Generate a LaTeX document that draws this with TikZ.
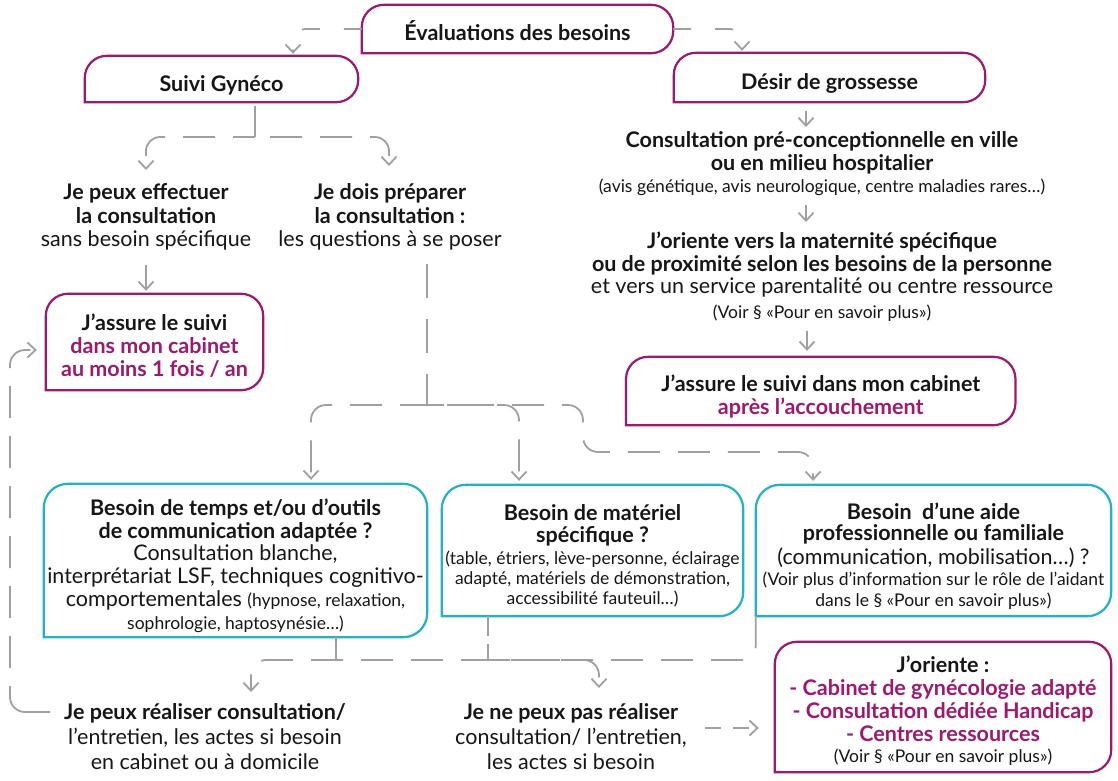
\documentclass[tikz,border=0pt]{standalone}
\usepackage{fontspec}
\setmainfont{Lato}
\usetikzlibrary{arrows.meta}
\definecolor{mag}{RGB}{160,24,110}
\definecolor{cyb}{RGB}{30,180,198}
\definecolor{gry}{RGB}{160,160,160}
\definecolor{txt}{RGB}{22,22,22}
\newcommand\fs[2]{\fontsize{#1}{#2}\selectfont}
\newcommand\sm{\fontsize{17.5}{21}\selectfont}
\newcommand\mg[1]{\textcolor{mag}{\textbf{#1}}}
\newcommand\boxline[2]{\draw[#1] (#2.south west) -- (#2.north west) -- (#2.north east) -- (#2.south east) -- (#2.south west);}
\begin{document}
\begin{tikzpicture}[x=1pt,y=-1pt,
  tx/.style={inner sep=0pt, align=center, text=txt, font=\fs{21.5}{#1}},
  tx/.default=23.5,
  bxn/.style={inner sep=0pt, minimum width=#1},
  magb/.style={draw=mag, line width=2.2pt, rounded corners=22pt, line cap=rect},
  cyab/.style={draw=cyb, line width=2.2pt, rounded corners=24pt, line cap=rect},
  gl/.style={draw=gry, line width=1.8pt},
  dl/.style={gl, dash pattern=on 32pt off 18pt},
  dls/.style={gl, dash pattern=on 18pt off 24pt},
  arr/.style={-{Straight Barb[length=8pt,width=15pt]}},
  ]
\fill[white] (0,0) rectangle (1118,780);
\useasboundingbox (0,0) rectangle (1118,780);

% ---- boxes (outlines)
\node[bxn=311pt, minimum height=48pt] (eval) at (517.5,29) {};
\node[bxn=273pt, minimum height=46pt] (suivi) at (221.5,79) {};
\node[bxn=311pt, minimum height=49pt] (desir) at (829.5,77.5) {};
\node[bxn=217pt, minimum height=96pt] (assureL) at (154.5,342) {};
\node[bxn=389pt, minimum height=68pt] (assureR) at (820.75,391) {};
\node[bxn=383pt, minimum height=153pt] (box1) at (235.5,560.5) {};
\node[bxn=301pt, minimum height=131pt] (box2) at (592.5,550.5) {};
\node[bxn=355pt, minimum height=131pt] (box3) at (933.5,550.5) {};
\node[bxn=336pt, minimum height=130pt] (oriente) at (943,707) {};
\boxline{magb}{eval}
\boxline{magb}{suivi}
\boxline{magb}{desir}
\boxline{magb}{assureL}
\boxline{magb}{assureR}
\boxline{cyab}{box1}
\boxline{cyab}{box2}
\boxline{cyab}{box3}
\boxline{magb}{oriente}

% ---- texts
\node[tx] (evalT) at (517.5,31) {\textbf{Évaluations des besoins}};
\node[tx] (suiviT) at (221.5,85) {\textbf{Suivi Gynéco}};
\node[tx] (desirT) at (829.5,83.5) {\textbf{Désir de grossesse}};

\node[tx] (t1) at (146,217) {\textbf{Je peux effectuer}\\ \textbf{la consultation}\\ sans besoin spécifique};
\node[tx] (t2) at (390,217) {\textbf{Je dois préparer}\\ \textbf{la consultation :}\\ les questions à se poser};
\node[tx=23] (assureLT) at (154.5,346) {\textbf{J’assure le suivi}\\ \mg{dans mon cabinet}\\ \mg{au moins 1 fois / an}};

\node[tx=23] (consult) at (822,164) {\textbf{Consultation pré-conceptionnelle en ville}\\ \textbf{ou en milieu hospitalier}\\[-1pt] {\sm(avis génétique, avis neurologique, centre maladies rares…)}};
\node[tx=23] (orient) at (822,277) {\textbf{J’oriente vers la maternité spécifique}\\ \textbf{ou de proximité selon les besoins de la personne}\\[-1pt] et vers un service parentalité ou centre ressource\\[2pt] {\sm(Voir § «Pour en savoir plus»)}};
\node[tx] (assureRT) at (820.75,396.5) {\textbf{J’assure le suivi dans mon cabinet}\\ \mg{après l’accouchement}};

\node[tx=22.8] (box1T) at (235.5,565.5) {\textbf{Besoin de temps et/ou d’outils}\\ \textbf{de communication adaptée ?}\\ Consultation blanche,\\ interprétariat LSF, techniques cognitivo-\\ comportementales {\sm(hypnose, relaxation,}\\ {\sm sophrologie, haptosynésie…)}};
\node[tx=20] (box2T) at (592.5,556) {\textbf{Besoin de matériel}\\[2pt] \textbf{spécifique ?}\\[2pt] {\sm(table, étriers, lève-personne, éclairage}\\ {\sm adapté, matériels de démonstration,}\\ {\sm accessibilité fauteuil…)}};
\node[tx=20.5] (box3T) at (933.5,556) {\textbf{Besoin\ \ d’une aide}\\[0.5pt] \textbf{professionnelle ou familiale}\\[3.5pt] (communication, mobilisation…) ?\\[0.5pt] {\sm(Voir plus d’information sur le rôle de l’aidant}\\ {\sm dans le § «Pour en savoir plus»)}};

\node[tx=25] (t5) at (205,737) {\textbf{Je peux réaliser consultation/}\\ l’entretien, les actes si besoin\\ en cabinet ou à domicile};
\node[tx=25] (t6) at (571,737) {\textbf{Je ne peux pas réaliser}\\ consultation/ l’entretien,\\ les actes si besoin};
\node[tx=23] (orienteT) at (943,711) {\textbf{J’oriente :}\\ \mg{- Cabinet de gynécologie adapté}\\ \mg{- Consultation dédiée Handicap}\\ \mg{- Centres ressources}\\[-2pt] {\sm(Voir § «Pour en savoir plus»)}};

% ---- connectors
\draw[dls, arr, rounded corners=12pt, shorten >=2pt] (eval.west) -| ([xshift=71.5pt]suivi.north);
\draw[dls, arr, rounded corners=12pt, shorten >=2pt] (eval.east) -| ([xshift=-87.5pt]desir.north);

\coordinate (s0) at ([xshift=33.5pt,yshift=-4pt]suivi.south);
\coordinate (s1) at (255,137);
\coordinate (a1) at (146,170);
\coordinate (a2) at (389,166);
\draw[gl] (s0) -- (s1);
\draw[dl, dash phase=10pt, arr, rounded corners=14pt] (s1) -| (a1);
\draw[dl, dash phase=35pt, arr, rounded corners=14pt] (s1) -| (a2);

\coordinate (a3) at (146,265);
\draw[gl, arr, shorten >=3pt] (a3) -- (a3 |- assureL.north);

\coordinate (m0) at (427,264);
\coordinate (m1) at (427,405);
\coordinate (m2) at (583,452);
\draw[dl, dash pattern=on 34pt off 21pt] (m0) -- (m1);
\draw[dl, dash phase=5pt, arr, rounded corners=15pt, shorten >=4pt] (m1) -| ([xshift=75.5pt]box1.north);
\draw[dl, dash phase=30pt, arr, rounded corners=15pt, shorten >=4pt] (m1) -| ([xshift=-73.5pt]box2.north);
\draw[dl, dash phase=15pt, arr, rounded corners=15pt, shorten >=4pt] (m1) -| (m2) -| ([xshift=-120.5pt]box3.north);

% right column arrows
\coordinate (r1) at (806,111);
\coordinate (r2) at (806,127);
\draw[gl, arr] (r1) -- (r2);
\coordinate (r3) at (806,205);
\coordinate (r4) at (806,222);
\draw[gl, arr] (r3) -- (r4);
\coordinate (r5) at (807,331);
\draw[gl, arr, shorten >=6pt] (r5) -- (r5 |- assureR.north);

% bottom network
\coordinate (b1) at ([xshift=100.5pt]box1.south);
\coordinate (h1) at (336,660);
\coordinate (b2) at ([xshift=-104.5pt]box2.south);
\coordinate (h2) at (488,660);
\coordinate (a5) at (251,692);
\coordinate (a6) at (599,688);
\draw[gl] (b1) -- (h1);
\draw[dl, dash pattern=on 20pt off 8pt] (b2) -- (h2);
\draw[dl, arr, rounded corners=15pt] (box3.south west) |- (h1) -| (a5);
\draw[dl, dash phase=10pt, arr, rounded corners=15pt] (h2) -| (a6);

% loop back to assureL
\coordinate (l0) at (50,712);
\coordinate (l1) at (10,688);
\draw[gl, rounded corners=15pt] (l0) -| (l1);
\draw[dl, dash phase=30pt, arr, rounded corners=15pt, shorten >=9pt] (l1) |- ([yshift=-8pt]assureL.west);

% to oriente
\coordinate (c6) at (705,728);
\draw[dl, arr, dash pattern=on 16pt off 12pt, shorten >=16pt] (c6) -- (c6 -| oriente.west);
\end{tikzpicture}
\end{document}
